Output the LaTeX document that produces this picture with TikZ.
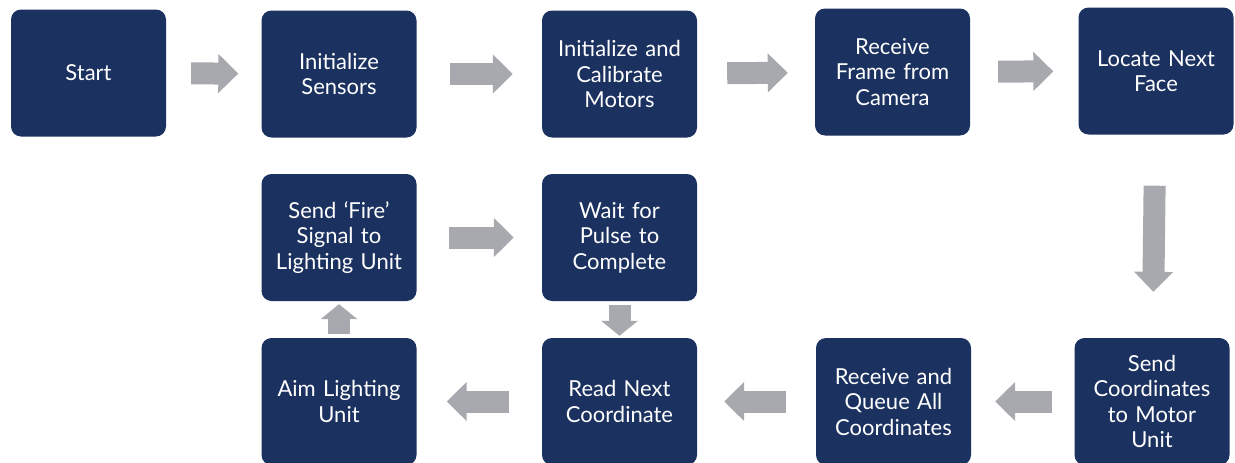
\documentclass[tikz,border=0pt]{standalone}
\usepackage{fontspec}
\setmainfont{Lato}
\usetikzlibrary{arrows.meta,positioning}

\definecolor{boxnavy}{RGB}{27,49,95}
\definecolor{flowgray}{RGB}{167,169,174}

\tikzset{
  stepbox/.style={rectangle, rounded corners=10pt, fill=boxnavy, text=white,
    minimum width=155pt, minimum height=127pt, text width=152pt, align=center,
    inner sep=0pt, font=\fontsize{22}{25.5}\selectfont},
  flow/.style={draw=flowgray, line width=22pt,
    -{Triangle[width=38pt,length=20pt]}},
  shortflow/.style={draw=flowgray, line width=22pt,
    -{Triangle[width=36pt,length=15pt]}}
}

\begin{document}
\begin{tikzpicture}[x=1pt, y=-1pt]
    \useasboundingbox (0,0) rectangle (1235,463);

    % Top row
    \node[stepbox] (start)   at (88.5,73)  {Start};
    \node[stepbox] (sensors) at (339,74)   {Initialize\\ Sensors};
    \node[stepbox] (motors)  at (619.5,74) {Initialize and\\ Calibrate\\ Motors};
    \node[stepbox] (frame)   at (892.5,72) {Receive\\ Frame from\\ Camera};
    \node[stepbox] (face)    at (1156,71)  {Locate Next\\ Face};

    % Middle row
    \node[stepbox] (fire)  at (339,237.5)   {Send ‘Fire’\\ Signal to\\ Lighting Unit};
    \node[stepbox] (pulse) at (619.5,237.5) {Wait for\\ Pulse to\\ Complete};

    % Bottom row
    \node[stepbox] (aim)       at (339,401.5)   {Aim Lighting\\ Unit};
    \node[stepbox] (readnext)  at (619.5,401.5) {Read Next\\ Coordinate};
    \node[stepbox] (queue)     at (893.5,401.5) {Receive and\\ Queue All\\ Coordinates};
    \node[stepbox] (sendcoord) at (1152,401.5)  {Send\\ Coordinates\\ to Motor\\ Unit};

    % Arrows along the top
    \draw[flow, shorten <=25pt, shorten >=23pt] (start) -- (sensors);
    \draw[flow, shorten <=33pt, shorten >=29pt] (sensors) -- (motors);
    \draw[flow, shorten <=30pt, shorten >=27pt] (motors) -- (frame);
    \draw[flow, shorten <=28pt, shorten >=25pt] (frame) -- (face);

    % Down the right side and back along the bottom
    \draw[flow, shorten <=51pt, shorten >=46pt] (face) -- (sendcoord);
    \draw[flow, shorten <=22pt, shorten >=24pt] (sendcoord) -- (queue);
    \draw[flow, shorten <=30pt, shorten >=27pt] (queue) -- (readnext);
    \draw[flow, shorten <=33pt, shorten >=30pt] (readnext) -- (aim);

    % Fire and wait loop
    \draw[shortflow, shorten <=4pt, shorten >=3pt] (aim) -- (fire);
    \draw[flow, shorten <=32pt, shorten >=28pt] (fire) -- (pulse);
    \draw[shortflow, shorten <=4pt, shorten >=2pt] (pulse) -- (readnext);
\end{tikzpicture}
\end{document}
